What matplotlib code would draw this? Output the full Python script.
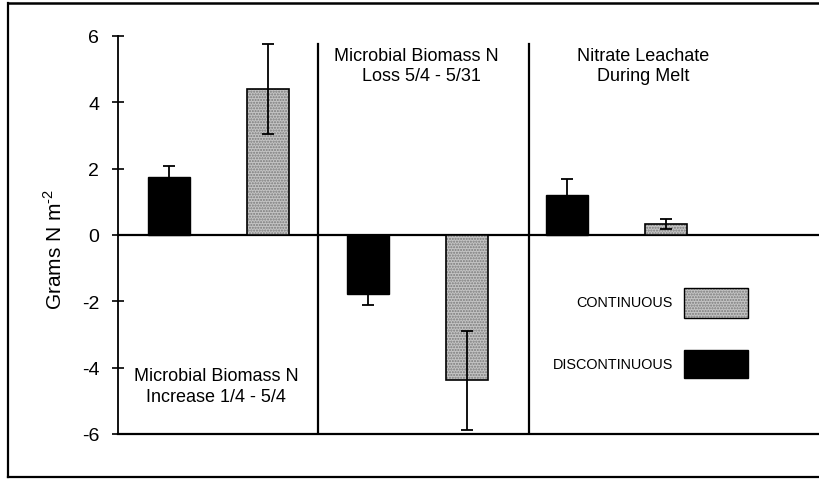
import matplotlib
matplotlib.use("Agg")
import matplotlib.pyplot as plt
from matplotlib.patches import Rectangle
from matplotlib.lines import Line2D

plt.rcParams['font.family'] = ['Liberation Sans', 'DejaVu Sans']
plt.rcParams['axes.unicode_minus'] = False
plt.rcParams['mathtext.fontset'] = 'custom'
plt.rcParams['mathtext.rm'] = 'Liberation Sans'

# dados (g N m-2)
sections = ["Microbial Biomass N\nIncrease 1/4 - 5/4",
            "Microbial Biomass N\n  Loss 5/4 - 5/31",
            "Nitrate Leachate\nDuring Melt"]
discontinuous = [1.75, -1.78, 1.21]
discontinuous_err = [0.33, 0.33, 0.48]
continuous = [4.41, -4.38, 0.33]
continuous_err = [1.36, 1.49, 0.15]

x_disc = [0.51, 2.50, 4.49]
x_cont = [1.505, 3.495, 5.48]
dividers = [2.0, 4.11]
yticks = [-6, -4, -2, 0, 2, 4, 6]

GRAY = '#c4c4c4'
STIPPLE = '#7a7a7a'

fig = plt.figure(figsize=(8.2, 4.81), dpi=100)
ax = fig.add_axes([118 / 820, 46 / 481, 702 / 820, 398 / 481])

bw = 0.42
ax.bar(x_disc, discontinuous, width=bw, color='black', edgecolor='black', linewidth=1, zorder=2)
# barras cinzas pontilhadas: primeiro o hachurado, depois a borda preta
ax.bar(x_cont, continuous, width=bw, color=GRAY, edgecolor=STIPPLE, hatch='......', linewidth=0, zorder=2)
ax.bar(x_cont, continuous, width=bw, fill=False, edgecolor='black', linewidth=1.2, zorder=3)

ax.errorbar(x_disc, discontinuous, yerr=discontinuous_err, fmt='none', ecolor='black',
            elinewidth=1.3, capsize=4.5, capthick=1.3, zorder=4)
ax.errorbar(x_cont, continuous, yerr=continuous_err, fmt='none', ecolor='black',
            elinewidth=1.3, capsize=4.5, capthick=1.3, zorder=4)

ax.axhline(0, color='black', linewidth=1.6, zorder=1)
for d in dividers:
    ax.plot([d, d], [-6, 5.76], color='black', linewidth=1.6, zorder=1)

ax.set_xlim(0, 7.02)
ax.set_ylim(-6, 6)
ax.set_xticks([])
ax.set_yticks(yticks)
ax.tick_params(axis='y', direction='inout', length=9, width=1.2, pad=9, labelsize=14)
for s in ('top', 'right'):
    ax.spines[s].set_visible(False)
ax.spines['left'].set_linewidth(1.3)
ax.spines['bottom'].set_linewidth(1.6)

ax.set_ylabel(r'Grams N m$^{\text{-}2}$', fontsize=15)
ax.yaxis.set_label_coords(-0.075, 0.465)

# titulos das secoes
ax.text(0.98, -4.55, sections[0], ha='center', va='center', fontsize=13, linespacing=1.25)
ax.text(2.98, 5.1, sections[1], ha='center', va='center', fontsize=13, linespacing=1.25)
ax.text(5.25, 5.1, sections[2], ha='center', va='center', fontsize=13, linespacing=1.25)

# legenda manual
tr = fig.transFigure
fig.text(673 / 820, 1 - 303 / 481, 'CONTINUOUS', ha='right', va='center', fontsize=10.4)
fig.text(673 / 820, 1 - 365 / 481, 'DISCONTINUOUS', ha='right', va='center', fontsize=10.4)
fig.add_artist(Rectangle((684 / 820, 1 - 319 / 481), 64 / 820, 30 / 481, transform=tr,
                         facecolor=GRAY, edgecolor=STIPPLE, hatch='......', linewidth=0))
fig.add_artist(Rectangle((684 / 820, 1 - 319 / 481), 64 / 820, 30 / 481, transform=tr,
                         fill=False, edgecolor='black', linewidth=1))
fig.add_artist(Rectangle((684 / 820, 1 - 379 / 481), 64 / 820, 28 / 481, transform=tr,
                         facecolor='black', edgecolor='black', linewidth=1))

# moldura da figura (sem lado direito)
fig.add_artist(Line2D([8 / 820, 8 / 820], [1 - 478 / 481, 1 - 4 / 481], transform=tr, color='black', linewidth=1.6))
fig.add_artist(Line2D([8 / 820, 1], [1 - 4 / 481, 1 - 4 / 481], transform=tr, color='black', linewidth=1.8))
fig.add_artist(Line2D([8 / 820, 1], [1 - 478 / 481, 1 - 478 / 481], transform=tr, color='black', linewidth=1.6))

fig.savefig('out.png', dpi=100)
